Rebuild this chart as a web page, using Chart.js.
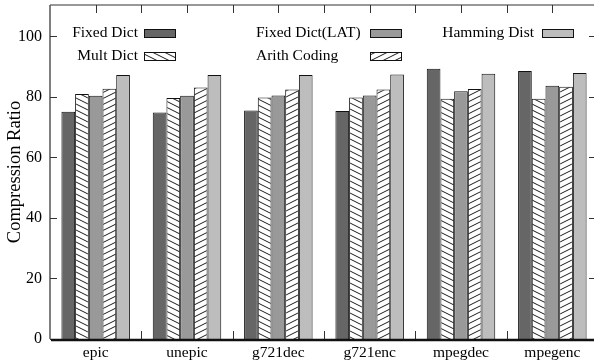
<!DOCTYPE html>
<html>
<head>
<meta charset="utf-8">
<script src="https://cdn.jsdelivr.net/npm/chart.js@4"></script>
<style>
  html, body { margin: 0; padding: 0; background: #fff; overflow: hidden; }
  canvas { display: block; }
</style>
</head>
<body>
<canvas id="chart" width="600" height="364"></canvas>
<script>
const benchmarks = ["epic", "unepic", "g721dec", "g721enc", "mpegdec", "mpegenc"];
const fixedDict = [75.1, 74.9, 75.5, 75.4, 89.3, 88.6];
const multDict = [81.0, 79.7, 79.8, 79.8, 79.4, 79.4];
const fixedDictLat = [80.4, 80.4, 80.5, 80.5, 81.9, 83.7];
const arithCoding = [82.7, 83.1, 82.5, 82.5, 82.6, 83.4];
const hammingDist = [87.3, 87.3, 87.3, 87.4, 87.7, 87.9];
const seriesNames = ["Fixed Dict", "Mult Dict", "Fixed Dict(LAT)", "Arith Coding", "Hamming Dist"];
const yTicks = [0, 20, 40, 60, 80, 100];

const serif = "'Liberation Serif', 'DejaVu Serif', serif";

// diagonal hatch fill, dir 1 = "\\", dir -1 = "//"
function hatch(dir) {
  const c = document.createElement("canvas");
  c.width = 12;
  c.height = 6;
  const g = c.getContext("2d");
  g.fillStyle = "#fff";
  g.fillRect(0, 0, 12, 6);
  g.strokeStyle = "#000";
  g.lineWidth = 0.9;
  for (const off of [-6, 0, 6]) {
    g.beginPath();
    if (dir > 0) {
      g.moveTo(0, off);
      g.lineTo(12, off + 6);
    } else {
      g.moveTo(0, off + 6);
      g.lineTo(12, off);
    }
    g.stroke();
  }
  return g.createPattern(c, "repeat");
}

const fills = ["#666666", hatch(1), "#999999", hatch(-1), "#bdbdbd"];
const values = [fixedDict, multDict, fixedDictLat, arithCoding, hammingDist];

// gnuplot-like frame, inward ticks and key
const framePlugin = {
  id: "frame",
  beforeDatasetsDraw(chart) {
    const { ctx, chartArea: a, scales } = chart;
    const x = scales.x;
    const half = (x.getPixelForValue(1) - x.getPixelForValue(0)) / 2;
    ctx.save();
    ctx.strokeStyle = "#333";
    ctx.lineWidth = 1;
    benchmarks.forEach((b, i) => {
      const cx = x.getPixelForValue(i);
      [cx, cx + half].forEach((px) => {
        ctx.beginPath();
        ctx.moveTo(Math.round(px) + 0.5, a.bottom);
        ctx.lineTo(Math.round(px) + 0.5, a.bottom - 8);
        ctx.stroke();
      });
    });
    ctx.restore();
  },
  afterDatasetsDraw(chart) {
    const { ctx, chartArea: a, scales } = chart;
    const x = scales.x;
    const y = scales.y;
    const half = (x.getPixelForValue(1) - x.getPixelForValue(0)) / 2;
    ctx.save();
    // top and right border
    ctx.strokeStyle = "#777";
    ctx.lineWidth = 1.5;
    ctx.beginPath();
    ctx.moveTo(a.left, a.top);
    ctx.lineTo(a.right, a.top);
    ctx.lineTo(a.right, a.bottom);
    ctx.stroke();
    // left axis
    ctx.strokeStyle = "#555";
    ctx.beginPath();
    ctx.moveTo(a.left, a.top);
    ctx.lineTo(a.left, a.bottom);
    ctx.stroke();
    // y ticks, both sides
    ctx.lineWidth = 1;
    ctx.strokeStyle = "#333";
    yTicks.forEach((v) => {
      const py = Math.round(y.getPixelForValue(v)) + 0.5;
      ctx.beginPath();
      ctx.moveTo(a.left, py);
      ctx.lineTo(a.left + 7, py);
      ctx.moveTo(a.right, py);
      ctx.lineTo(a.right - 9, py);
      ctx.stroke();
    });
    // top ticks
    benchmarks.forEach((b, i) => {
      const cx = x.getPixelForValue(i);
      [cx, cx + half].forEach((px) => {
        ctx.beginPath();
        ctx.moveTo(Math.round(px) + 0.5, a.top);
        ctx.lineTo(Math.round(px) + 0.5, a.top + 8);
        ctx.stroke();
      });
    });
    // bottom axis, thick
    ctx.strokeStyle = "#111";
    ctx.lineWidth = 2.5;
    ctx.beginPath();
    ctx.moveTo(a.left + 1, a.bottom + 1);
    ctx.lineTo(a.right, a.bottom + 1);
    ctx.stroke();

    // key: 3 columns x 2 rows
    const cols = [
      { text: 138, align: "right", box: 144 },
      { text: 256, align: "left", box: 370 },
      { text: 534, align: "right", box: 542 },
    ];
    const rows = [37, 60];
    ctx.font = "15.5px " + serif;
    ctx.textBaseline = "alphabetic";
    seriesNames.forEach((name, i) => {
      const col = cols[Math.floor(i / 2)];
      const base = rows[i % 2];
      ctx.textAlign = col.align;
      ctx.fillStyle = "#000";
      ctx.fillText(name, col.text, base);
      ctx.fillStyle = fills[i];
      ctx.fillRect(col.box, base - 8, 31, 8);
      ctx.strokeStyle = "#111";
      ctx.lineWidth = 1;
      ctx.strokeRect(col.box + 0.5, base - 8 + 0.5, 31, 8);
    });
    ctx.restore();
  },
};

new Chart(document.getElementById("chart"), {
  type: "bar",
  data: {
    labels: benchmarks,
    datasets: seriesNames.map((name, i) => ({
      label: name,
      data: values[i],
      backgroundColor: fills[i],
      borderColor: "#111",
      borderWidth: 1,
      barPercentage: 1,
      categoryPercentage: 0.75,
    })),
  },
  options: {
    responsive: false,
    animation: false,
    devicePixelRatio: 1,
    layout: { padding: { top: 5, right: 2, left: 0, bottom: 0 } },
    plugins: {
      legend: { display: false },
      tooltip: { enabled: false },
    },
    scales: {
      x: {
        grid: { display: false, drawTicks: false },
        border: { display: false },
        ticks: {
          color: "#000",
          font: { family: serif, size: 15.5 },
          padding: 5,
          maxRotation: 0,
        },
        afterFit(scale) {
          scale.height = 25;
          scale.paddingLeft = 0;
          scale.paddingRight = 0;
        },
      },
      y: {
        min: 0,
        max: 110.4,
        grid: { display: false, drawTicks: false },
        border: { display: false },
        afterBuildTicks(scale) {
          scale.ticks = yTicks.map((v) => ({ value: v }));
        },
        ticks: {
          color: "#000",
          font: { family: serif, size: 16 },
          padding: 8,
        },
        title: {
          display: true,
          text: "Compression Ratio",
          color: "#000",
          font: { family: serif, size: 18.5 },
          padding: { top: 4, bottom: 0 },
        },
        afterFit(scale) {
          scale.width = 50;
          scale.paddingTop = 0;
          scale.paddingBottom = 0;
        },
      },
    },
  },
  plugins: [framePlugin],
});
</script>
</body>
</html>
